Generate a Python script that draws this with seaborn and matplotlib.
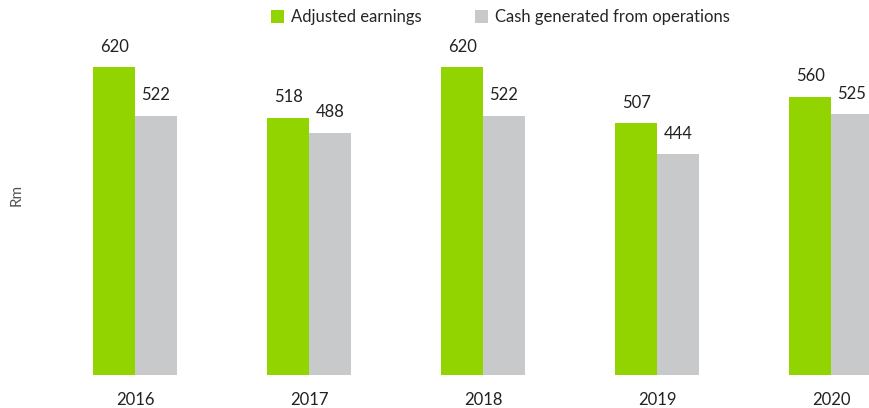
import pandas as pd
import matplotlib.pyplot as plt
import seaborn as sns

# ===== datos =====
YEARS = ["2016", "2017", "2018", "2019", "2020"]
ADJ_EARNINGS = [620, 518, 620, 507, 560]
CASH_OPS = [522, 488, 522, 444, 525]
SERIES = ["Adjusted earnings", "Cash generated from operations"]
COLORS = ["#92d400", "#c8c9cb"]

df = pd.DataFrame({
    "year": YEARS * 2,
    "value": ADJ_EARNINGS + CASH_OPS,
    "series": [SERIES[0]] * len(YEARS) + [SERIES[1]] * len(YEARS),
})

sns.set_style("white")
plt.rcParams["font.family"] = ["Lato", "DejaVu Sans"]

fig = plt.figure(figsize=(8.7, 4.08), dpi=100)
ax = fig.add_axes([48 / 870, 33 / 408, 1 - 48 / 870, 375 / 408])
sns.barplot(data=df, x="year", y="value", hue="series", palette=COLORS,
            width=0.48, saturation=1, linewidth=0, ax=ax)

for cont in ax.containers:
    ax.bar_label(cont, fmt="%d", padding=9, fontsize=12, color="#222222")

ax.set_xlim(-0.5, 4.224)
ax.set_ylim(0, 755)
ax.set_yticks([])
ax.set_xlabel("")
ax.set_ylabel("")
ax.tick_params(axis="x", length=0, labelsize=12, pad=12, colors="#222222")
sns.despine(ax=ax, left=True, bottom=True)

fig.text(17 / 870, 1 - 195 / 408, "Rm", rotation=90, ha="center", va="center",
         fontsize=11, color="#555555")

ax.legend_.remove()
handles, labels = ax.get_legend_handles_labels()
fig.legend(handles, labels, loc="center", bbox_to_anchor=(500 / 870, 1 - 17 / 408),
           ncol=2, frameon=False, fontsize=12, handlelength=0.8, handleheight=0.8,
           handletextpad=0.4, columnspacing=3.2)

fig.savefig("out.png", dpi=100)
